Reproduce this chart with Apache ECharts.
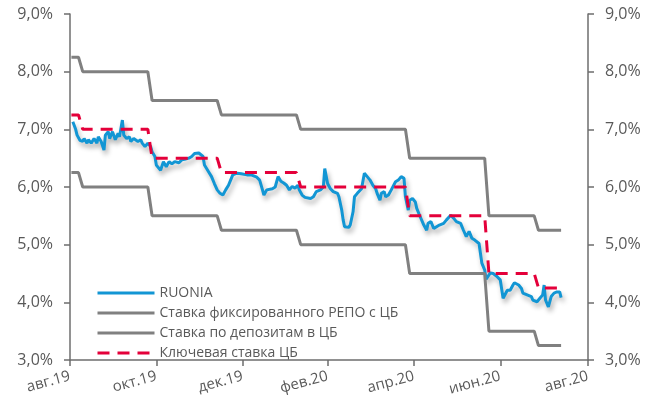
<!DOCTYPE html>
<html>
<head>
<meta charset="utf-8">
<script src="https://cdn.jsdelivr.net/npm/echarts@6/dist/echarts.min.js"></script>
<style>
  html, body { margin: 0; padding: 0; background: #fff; }
  #chart { width: 658px; height: 401px; }
</style>
</head>
<body>
<div id="chart"></div>
<script>
// ось X: подписи и даты делений
const tickDates = ['2019-08-31', '2019-10-31', '2019-12-31', '2020-02-29', '2020-04-30', '2020-06-30', '2020-08-31'];
const tickLabels = ['авг.19', 'окт.19', 'дек.19', 'фев.20', 'апр.20', 'июн.20', 'авг.20'];

// даты изменения ставок ЦБ (последний день старой ставки / первый день новой)
const periodStart = '2019-09-01';
const periodEnd = '2020-08-12';
const lastOldDates = ['2019-09-06', '2019-10-25', '2019-12-13', '2020-02-07', '2020-04-24', '2020-06-19', '2020-07-24'];
const changeDates = ['2019-09-09', '2019-10-28', '2019-12-16', '2020-02-10', '2020-04-27', '2020-06-22', '2020-07-27'];
const keyRate = [7.25, 7.0, 6.5, 6.25, 6.0, 5.5, 4.5, 4.25];
const repoRate = [8.25, 8.0, 7.5, 7.25, 7.0, 6.5, 5.5, 5.25];
const depositRate = [6.25, 6.0, 5.5, 5.25, 5.0, 4.5, 3.5, 3.25];

// RUONIA
const ruoniaDates = [
  '2019-09-02','2019-09-04','2019-09-05','2019-09-07','2019-09-09','2019-09-10','2019-09-12','2019-09-13','2019-09-15','2019-09-17',
  '2019-09-19','2019-09-20','2019-09-22','2019-09-24','2019-09-25','2019-09-27','2019-09-28','2019-09-30','2019-10-02','2019-10-04',
  '2019-10-05','2019-10-07','2019-10-08','2019-10-10','2019-10-12','2019-10-13','2019-10-15','2019-10-16','2019-10-18','2019-10-20',
  '2019-10-21','2019-10-23','2019-10-25','2019-10-27','2019-10-28','2019-10-30','2019-10-31','2019-11-03','2019-11-05','2019-11-07',
  '2019-11-09','2019-11-11','2019-11-13','2019-11-16','2019-11-18','2019-11-20','2019-11-23','2019-11-25','2019-11-27','2019-11-30',
  '2019-12-01','2019-12-03','2019-12-04','2019-12-07','2019-12-09','2019-12-11','2019-12-13','2019-12-15','2019-12-17','2019-12-19',
  '2019-12-21','2019-12-23','2019-12-24','2019-12-27','2019-12-30','2020-01-03','2020-01-06','2020-01-10','2020-01-12','2020-01-14',
  '2020-01-15','2020-01-17','2020-01-18','2020-01-21','2020-01-23','2020-01-25','2020-01-27','2020-01-29','2020-01-31','2020-02-02',
  '2020-02-04','2020-02-06','2020-02-08','2020-02-09','2020-02-11','2020-02-13','2020-02-17','2020-02-19','2020-02-21','2020-02-24',
  '2020-02-26','2020-02-27','2020-02-29','2020-03-02','2020-03-04','2020-03-05','2020-03-07','2020-03-08','2020-03-10','2020-03-11',
  '2020-03-12','2020-03-15','2020-03-16','2020-03-18','2020-03-19','2020-03-21','2020-03-22','2020-03-24','2020-03-26','2020-03-28',
  '2020-03-30','2020-04-01','2020-04-03','2020-04-04','2020-04-06','2020-04-07','2020-04-09','2020-04-10','2020-04-12','2020-04-14',
  '2020-04-17','2020-04-19','2020-04-21','2020-04-23','2020-04-24','2020-04-26','2020-04-27','2020-04-29','2020-05-01','2020-05-02',
  '2020-05-04','2020-05-07','2020-05-09','2020-05-10','2020-05-12','2020-05-14','2020-05-16','2020-05-18','2020-05-21','2020-05-23',
  '2020-05-26','2020-05-28','2020-05-30','2020-06-02','2020-06-04','2020-06-05','2020-06-06','2020-06-08','2020-06-10','2020-06-12',
  '2020-06-15','2020-06-16','2020-06-17','2020-06-19','2020-06-20','2020-06-23','2020-06-25','2020-06-28','2020-06-30','2020-07-02',
  '2020-07-05','2020-07-07','2020-07-09','2020-07-10','2020-07-13','2020-07-15','2020-07-16','2020-07-19','2020-07-22','2020-07-23',
  '2020-07-26','2020-07-28','2020-07-30','2020-07-31','2020-08-01','2020-08-03','2020-08-05','2020-08-07','2020-08-09','2020-08-11',
  '2020-08-12'
];
const ruoniaValues = [
  7.13, 7.00, 6.90, 6.81, 6.79, 6.84, 6.76, 6.82, 6.76, 6.84,
  6.76, 6.87, 6.79, 6.64, 6.90, 6.96, 6.84, 6.96, 6.82, 6.93,
  6.87, 7.16, 6.90, 6.84, 6.87, 6.79, 6.84, 6.82, 6.79, 6.82,
  6.76, 6.70, 6.76, 6.70, 6.61, 6.53, 6.38, 6.29, 6.44, 6.35,
  6.44, 6.40, 6.44, 6.42, 6.47, 6.48, 6.50, 6.53, 6.58, 6.59,
  6.58, 6.53, 6.38, 6.26, 6.18, 6.06, 5.95, 5.89, 5.86, 5.95,
  6.03, 6.15, 6.21, 6.24, 6.23, 6.21, 6.21, 6.17, 6.12, 5.95,
  5.86, 5.95, 5.98, 5.97, 6.00, 6.18, 6.10, 6.07, 6.03, 5.95,
  6.01, 5.98, 6.03, 5.95, 5.86, 5.82, 5.80, 5.83, 5.92, 5.95,
  6.00, 6.32, 6.06, 5.97, 5.92, 5.95, 5.89, 5.83, 5.60, 5.43,
  5.31, 5.30, 5.34, 5.57, 5.83, 5.89, 5.86, 5.97, 6.24, 6.18,
  6.12, 6.03, 5.97, 5.89, 5.77, 5.89, 5.92, 5.83, 5.86, 5.95,
  6.09, 6.12, 6.18, 6.15, 5.83, 5.60, 5.77, 5.80, 5.74, 5.63,
  5.51, 5.34, 5.25, 5.37, 5.40, 5.28, 5.31, 5.34, 5.37, 5.43,
  5.51, 5.46, 5.40, 5.37, 5.25, 5.28, 5.14, 5.23, 5.11, 5.08,
  5.02, 4.85, 4.68, 4.56, 4.40, 4.51, 4.50, 4.44, 4.39, 4.07,
  4.21, 4.21, 4.30, 4.34, 4.30, 4.24, 4.16, 4.13, 4.10, 4.04,
  4.01, 4.07, 4.13, 4.30, 4.04, 3.92, 4.10, 4.16, 4.18, 4.18,
  4.08
];

function ts(s) {
    const p = s.split('-').map(Number);
    return new Date(p[0], p[1] - 1, p[2]).getTime();
}

// ступенчатая линия ставки из дат изменения
function stepData(rates) {
    const out = [[ts(periodStart), rates[0]]];
    for (let i = 0; i < changeDates.length; i++) {
        out.push([ts(lastOldDates[i]), rates[i]]);
        out.push([ts(changeDates[i]), rates[i + 1]]);
    }
    out.push([ts(periodEnd), rates[rates.length - 1]]);
    return out;
}

const tickTimes = tickDates.map(ts);
const FONT = "'Open Sans', sans-serif";
const TEXT = '#595959';
const AXIS = '#6e6e6e';

const yAxisBase = {
    type: 'value',
    min: 3,
    max: 9,
    interval: 1,
    splitLine: { show: false },
    axisLine: { show: true, lineStyle: { color: AXIS, width: 1.5 } },
    axisTick: { show: true, length: 6, lineStyle: { color: AXIS, width: 1.5 } },
    axisLabel: {
        color: TEXT,
        fontFamily: FONT,
        fontSize: 16,
        margin: 17,
        formatter: function (v) { return v.toFixed(1).replace('.', ',') + '%'; }
    }
};

const chart = echarts.init(document.getElementById('chart'), null, { renderer: 'canvas' });
chart.setOption({
    animation: false,
    grid: { left: 70, right: 70, top: 14, bottom: 41 },
    legend: {
        orient: 'vertical',
        left: 91,
        top: 281,
        itemWidth: 57,
        itemHeight: 14,
        itemGap: 6,
        itemStyle: { opacity: 0 },
        lineStyle: { width: 3 },
        textStyle: { color: TEXT, fontFamily: FONT, fontSize: 14 },
        data: ['RUONIA', 'Ставка фиксированного РЕПО с ЦБ', 'Ставка по депозитам в ЦБ', 'Ключевая ставка ЦБ']
    },
    xAxis: {
        type: 'value',
        min: tickTimes[0],
        max: tickTimes[tickTimes.length - 1],
        splitLine: { show: false },
        axisLine: { show: true, lineStyle: { color: AXIS, width: 1.5 } },
        axisTick: { show: true, length: 6, customValues: tickTimes, lineStyle: { color: AXIS, width: 1.5 } },
        axisLabel: {
            customValues: tickTimes,
            rotate: 15,
            margin: 16,
            color: TEXT,
            fontFamily: FONT,
            fontSize: 15,
            hideOverlap: false,
            formatter: function (v) {
                let best = 0;
                for (let i = 1; i < tickTimes.length; i++) {
                    if (Math.abs(tickTimes[i] - v) < Math.abs(tickTimes[best] - v)) best = i;
                }
                return tickLabels[best];
            }
        }
    },
    yAxis: [
        Object.assign({}, yAxisBase, { position: 'left' }),
        Object.assign({}, yAxisBase, { position: 'right' })
    ],
    series: [
        {
            name: 'RUONIA',
            type: 'line',
            symbol: 'none',
            data: ruoniaDates.map(function (d, i) { return [ts(d), ruoniaValues[i]]; }),
            lineStyle: {
                color: '#1296D4', width: 3,
                shadowColor: 'rgba(0,0,0,0.3)', shadowBlur: 5, shadowOffsetX: 2, shadowOffsetY: 4
            },
            itemStyle: { color: '#1296D4' }
        },
        {
            name: 'Ставка фиксированного РЕПО с ЦБ',
            type: 'line',
            symbol: 'none',
            data: stepData(repoRate),
            lineStyle: { color: '#808080', width: 3 },
            itemStyle: { color: '#808080' }
        },
        {
            name: 'Ставка по депозитам в ЦБ',
            type: 'line',
            symbol: 'none',
            data: stepData(depositRate),
            lineStyle: { color: '#808080', width: 3 },
            itemStyle: { color: '#808080' }
        },
        {
            name: 'Ключевая ставка ЦБ',
            type: 'line',
            symbol: 'none',
            data: stepData(keyRate),
            lineStyle: { color: '#E4003A', width: 3, type: [12, 8] },
            itemStyle: { color: '#E4003A' }
        }
    ]
});
</script>
</body>
</html>
